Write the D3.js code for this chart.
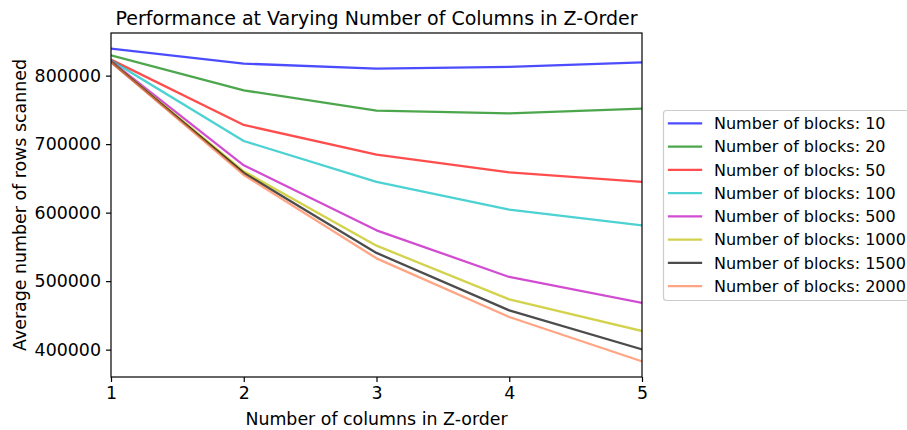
<!DOCTYPE html>
<html>
<head>
<meta charset="utf-8">
<script src="https://cdn.jsdelivr.net/npm/d3@7"></script>
<style>
  html, body { margin: 0; padding: 0; background: #fff; }
  svg { display: block; font-family: "DejaVu Sans", sans-serif; }
</style>
</head>
<body>
<div id="chart"></div>
<script>
// Columns used in the Z-order key
const columns = [1, 2, 3, 4, 5];

// Average rows scanned per query, one array per block count
const blocks10   = [839400, 817500, 810200, 812700, 819400];
const blocks20   = [829600, 778500, 748900, 745000, 751800];
const blocks50   = [823400, 728000, 684700, 658900, 644800];
const blocks100  = [822300, 704600, 644800, 604400, 581500];
const blocks500  = [821200, 669100, 574200, 506100, 468200];
const blocks1000 = [820600, 660300, 551800, 473400, 427300];
const blocks1500 = [820000, 657900, 541200, 457400, 400400];
const blocks2000 = [819400, 655000, 533300, 447700, 382900];

const blockLabels = ["10", "20", "50", "100", "500", "1000", "1500", "2000"];
const seriesColors = ["#0000ff", "#008000", "#ff0000", "#00bfbf",
                      "#bf00bf", "#bfbf00", "#000000", "#ff7f50"];

const yTicks = [400000, 500000, 600000, 700000, 800000];

const series = [blocks10, blocks20, blocks50, blocks100,
                blocks500, blocks1000, blocks1500, blocks2000]
  .map((values, i) => ({
    label: "Number of blocks: " + blockLabels[i],
    color: seriesColors[i],
    points: values.map((v, j) => ({ x: columns[j], y: v }))
  }));

const W = 907, H = 430;
const plot = { left: 111, right: 642, top: 33, bottom: 377 };

const svg = d3.select("#chart").append("svg")
  .attr("width", W).attr("height", H);

// y range padded by 5% on both sides
const all = series.flatMap(s => s.points.map(p => p.y));
const yMin = d3.min(all), yMax = d3.max(all);
const pad = (yMax - yMin) * 0.05;

const x = d3.scaleLinear().domain([1, 5]).range([plot.left, plot.right]);
const y = d3.scaleLinear().domain([yMin - pad, yMax + pad]).range([plot.bottom, plot.top]);

svg.append("defs").append("clipPath").attr("id", "plot-clip")
  .append("rect")
  .attr("x", plot.left).attr("y", plot.top)
  .attr("width", plot.right - plot.left).attr("height", plot.bottom - plot.top);

const line = d3.line().x(d => x(d.x)).y(d => y(d.y));

const lineWidth = 2.3;
svg.append("g").attr("clip-path", "url(#plot-clip)")
  .selectAll("path").data(series).join("path")
  .attr("d", d => line(d.points))
  .attr("fill", "none")
  .attr("stroke", d => d.color)
  .attr("stroke-opacity", 0.7)
  .attr("stroke-width", lineWidth)
  .attr("stroke-linejoin", "round")
  .attr("stroke-linecap", "square");

// Axes
const tickFont = 17.4;
const xAxis = d3.axisBottom(x).tickValues(columns).tickFormat(d3.format("d"))
  .tickSize(5).tickPadding(5).tickSizeOuter(0);
const yAxis = d3.axisLeft(y).tickValues(yTicks).tickFormat(d3.format("d"))
  .tickSize(5).tickPadding(5).tickSizeOuter(0);

const gx = svg.append("g").attr("transform", `translate(0,${plot.bottom})`).call(xAxis);
const gy = svg.append("g").attr("transform", `translate(${plot.left},0)`).call(yAxis);
[gx, gy].forEach(g => {
  g.select(".domain").remove();
  g.selectAll(".tick line").attr("stroke", "#000").attr("stroke-width", 1.2);
  g.selectAll(".tick text").attr("fill", "#000")
    .style("font-family", "DejaVu Sans").style("font-size", tickFont + "px");
});

// Frame
svg.append("rect")
  .attr("x", plot.left).attr("y", plot.top)
  .attr("width", plot.right - plot.left).attr("height", plot.bottom - plot.top)
  .attr("fill", "none").attr("stroke", "#000").attr("stroke-width", 1.2);

// Title and axis labels
svg.append("text")
  .attr("x", (plot.left + plot.right) / 2).attr("y", 25)
  .attr("text-anchor", "middle")
  .style("font-size", "19px")
  .text("Performance at Varying Number of Columns in Z-Order");

svg.append("text")
  .attr("x", (plot.left + plot.right) / 2).attr("y", 425)
  .attr("text-anchor", "middle")
  .style("font-size", "17.4px")
  .text("Number of columns in Z-order");

svg.append("text")
  .attr("transform", `translate(26,${(plot.top + plot.bottom) / 2}) rotate(-90)`)
  .attr("text-anchor", "middle")
  .style("font-size", "17.4px")
  .text("Average number of rows scanned");

// Legend
const legendFont = 16;
const legend = svg.append("g");
legend.append("rect")
  .attr("x", 663.5).attr("y", 110.5)
  .attr("width", 260).attr("height", 190)
  .attr("rx", 3).attr("ry", 3)
  .attr("fill", "#fff").attr("fill-opacity", 0.8)
  .attr("stroke", "#cccccc").attr("stroke-width", 1.2);

const rowH = 23.25, firstY = 123.3;
const items = legend.selectAll("g.item").data(series).join("g")
  .attr("class", "item")
  .attr("transform", (d, i) => `translate(0,${firstY + i * rowH})`);
items.append("line")
  .attr("x1", 669).attr("x2", 701)
  .attr("stroke", d => d.color).attr("stroke-opacity", 0.7)
  .attr("stroke-width", lineWidth).attr("stroke-linecap", "square");
items.append("text")
  .attr("x", 714).attr("dy", "0.36em")
  .style("font-size", legendFont + "px")
  .text(d => d.label);
</script>
</body>
</html>
